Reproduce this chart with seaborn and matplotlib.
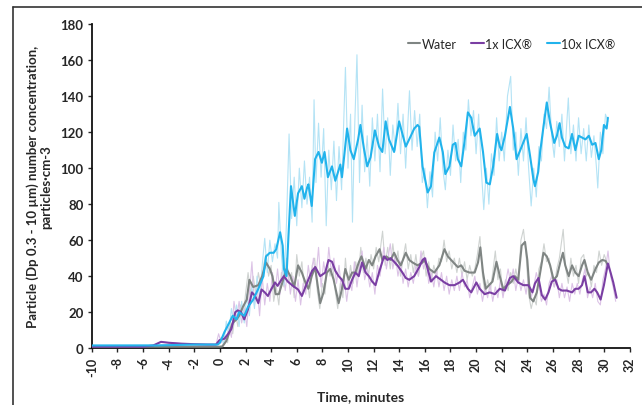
import matplotlib
matplotlib.use("Agg")
import matplotlib.pyplot as plt
import seaborn as sns
import pandas as pd
from matplotlib.lines import Line2D

# ---- data (time in minutes, particles/cm3) ----
# smoothed lines
water_t = [-10, -5, -1, 0, 0.2, 0.5, 0.75, 1.0, 1.3, 1.5, 1.8, 2.1, 2.3, 2.6, 3.0, 3.3, 3.6, 3.9, 4.1, 4.35,
           4.6, 4.9, 5.2, 5.5, 5.8, 6.1, 6.4, 6.7, 6.91, 7.17, 7.43, 7.83, 8.09, 8.35, 8.61, 8.88, 9.27, 9.53,
           9.79, 10.06, 10.32, 10.58, 10.84, 11.05, 11.37, 11.63, 11.89, 12.15, 12.47, 12.68, 12.99, 13.33,
           13.6, 13.86, 14.12, 14.51, 14.78, 15.04, 15.43, 15.82, 15.95, 16.35, 16.74, 17.13, 17.53, 17.79,
           18.05, 18.31, 18.58, 18.84, 19.1, 19.49, 19.89, 20.15, 20.33, 20.54, 20.75, 21.01, 21.28, 21.59,
           21.85, 22.11, 22.43, 22.77, 23.03, 23.29, 23.56, 23.82, 24.0, 24.21, 24.47, 24.74, 24.98, 25.26,
           25.52, 25.78, 26.05, 26.31, 26.57, 26.78, 26.96, 27.23, 27.49, 27.75, 28.01, 28.27, 28.46, 28.72,
           28.98, 29.32, 29.58, 29.85, 30.11, 30.29]
water_v = [0.8, 0.8, 0.8, 0.8, 1, 4, 9, 14, 16, 18, 23, 27, 38, 34, 35, 40, 47.6, 44, 40, 30,
           30, 37, 44, 40, 34, 46, 42, 36, 33, 40, 45, 25, 31, 42, 44, 38, 25, 33,
           44, 38, 42, 42, 47.6, 51, 44, 49, 46, 51, 55, 49, 51, 49,
           53, 49, 46, 53, 49, 47.6, 46, 47.6, 49, 44, 42, 46, 55, 51,
           49, 47, 45, 46, 43, 42, 42, 47.6, 56, 42, 33, 35, 37, 48,
           40, 33, 35, 37, 40, 38, 57, 59, 49, 28, 26, 31, 41, 53,
           51, 46, 38, 40, 47.6, 53, 46, 40, 46, 42, 40, 46, 49, 42,
           38, 44, 47.6, 49, 48.5, 46]

icx1_t = [-10, -6, -5.2, -4.6, -4.0, -3, -2, -1, -0.3, -0.04, 0.36, 0.65, 0.9, 1.2, 1.4, 1.65, 1.9, 2.2, 2.5,
          2.75, 3.0, 3.25, 3.5, 3.75, 4.0, 4.3, 4.5, 4.8, 5.0, 5.3, 5.7, 6.1, 6.4, 6.6, 6.9, 7.2, 7.45, 7.83,
          8.22, 8.48, 8.75, 9.01, 9.27, 9.53, 9.79, 10.06, 10.32, 10.58, 10.84, 11.1, 11.37, 11.63, 11.89,
          12.15, 12.42, 12.81, 13.07, 13.33, 13.6, 13.86, 14.25, 14.51, 14.78, 15.17, 15.56, 15.82, 16.0,
          16.22, 16.48, 16.87, 17.26, 17.53, 17.92, 18.31, 18.71, 18.97, 19.36, 19.62, 20.02, 20.28, 20.67,
          21.07, 21.46, 21.85, 22.25, 22.64, 22.9, 23.29, 23.69, 24.08, 24.4, 24.6, 24.87, 25.13, 25.39,
          25.65, 25.91, 26.18, 26.44, 26.7, 27.09, 27.49, 27.75, 28.01, 28.27, 28.46, 28.72, 28.98, 29.24,
          29.45, 29.72, 29.98, 30.29, 30.5, 30.71, 30.97]
icx1_v = [0.8, 0.8, 1.5, 3.5, 3, 2.5, 2.2, 2, 2, 4.4, 5.3, 8, 10.7, 20, 21, 20, 16, 21.7, 31,
          29, 25, 32.6, 31, 29, 32.6, 36.5, 34.6, 38, 40, 37, 34.6, 32.6, 29, 32.6, 38, 43, 45, 40,
          42, 49, 48, 43, 40, 38, 33, 33, 38, 42, 40, 47.6, 42, 40, 37,
          35, 42, 51, 49, 50, 48, 46, 42, 39, 38, 40, 45, 49, 50,
          44, 37, 40, 38, 36.5, 35, 35, 36.5, 38, 33, 31, 36.5, 33, 30,
          31, 30, 33, 32, 39, 40, 36.5, 35, 35, 31, 36, 39, 29.5, 27,
          31, 37, 38, 33, 32, 32, 31, 33, 33, 35, 40, 31, 31, 33,
          31, 27, 35, 47, 42, 36.5, 28]

icx10_t = [-10, -5, -2, -0.5, -0.17, 0, 0.36, 0.75, 1.0, 1.3, 1.5, 1.9, 2.2, 2.6, 3.0, 3.4, 3.6, 3.9, 4.2, 4.4,
           4.7, 4.9, 5.0, 5.2, 5.35, 5.55, 5.85, 6.1, 6.4, 6.6, 6.8, 6.91, 7.17, 7.43, 7.70, 7.96, 8.17, 8.43,
           8.75, 9.01, 9.40, 9.53, 9.93, 10.19, 10.45, 10.79, 10.97, 11.24, 11.50, 11.76, 12.10, 12.42, 12.68,
           12.94, 13.2, 13.6, 13.99, 14.25, 14.51, 14.91, 15.17, 15.43, 15.56, 15.82, 16.22, 16.48, 16.74,
           17.13, 17.4, 17.6, 17.92, 18.18, 18.39, 18.58, 18.84, 19.1, 19.36, 19.62, 19.89, 20.28, 20.54,
           20.8, 21.07, 21.33, 21.64, 21.85, 21.98, 22.25, 22.64, 22.9, 23.16, 23.56, 23.95, 24.21, 24.47,
           24.6, 24.85, 25.0, 25.26, 25.52, 25.78, 26.1, 26.31, 26.52, 26.7, 26.96, 27.23, 27.49, 27.75,
           28.01, 28.27, 28.54, 28.8, 29.06, 29.32, 29.58, 29.77, 29.98, 30.19, 30.29]
icx10_v = [1.5, 1.5, 2, 2, 2, 3, 9, 14.4, 18, 16, 20, 18, 23, 27, 33, 40, 51, 53, 53, 55,
           64.4, 57, 44, 40, 62, 90, 73.5, 86, 90, 83, 89, 91, 79, 105, 109, 103, 109, 95,
           101, 93, 102, 95, 122, 110, 105, 116, 124, 111, 101, 106, 121, 112, 109,
           126, 116, 109, 126, 119, 112, 118, 122, 124, 123, 101, 86.5, 90, 108.7,
           117, 109, 96.7, 101, 113, 114, 105, 101, 115, 131, 128, 118, 122, 109,
           92, 91, 101, 119, 112, 110, 118, 134, 122, 105, 112, 119, 107, 94,
           90, 98, 109, 123, 136.5, 125, 114, 118, 125, 117, 112, 111, 119, 110,
           118, 117, 116, 118, 113, 114, 105, 110, 124, 122, 128]

# raw (unsmoothed) traces
water_raw_t = [-10, 0.2, 0.4, 0.6, 0.8, 1.0, 1.2, 1.4, 1.6, 1.8, 2.0, 2.2, 2.4, 2.6, 2.8, 3.0, 3.2, 3.4, 3.6,
               3.8, 4.0, 4.2, 4.4, 4.6, 4.8, 5.0, 5.2, 5.4, 5.6, 5.8, 6.0, 6.2, 6.4, 6.6, 6.8, 7.0, 7.2, 7.4,
               7.6, 7.8, 8.0, 8.2, 8.4, 8.6, 8.8, 9.0, 9.2, 9.4, 9.6, 9.8, 10.0, 10.2, 10.4, 10.6, 10.8, 11.0,
               11.2, 11.4, 11.6, 11.8, 12.0, 12.2, 12.4, 12.7, 12.9, 13.1, 13.3, 13.5, 13.7, 13.9, 14.1, 14.3,
               14.5, 14.7, 14.9, 15.1, 15.3, 15.5, 15.7, 15.9, 16.1, 16.3, 16.5, 16.7, 16.9, 17.1, 17.3, 17.5,
               17.7, 17.9, 18.1, 18.3, 18.5, 18.7, 18.9, 19.1, 19.3, 19.5, 19.7, 19.9, 20.1, 20.3, 20.5, 20.7,
               20.9, 21.1, 21.3, 21.5, 21.7, 21.9, 22.1, 22.3, 22.5, 22.7, 22.9, 23.1, 23.3, 23.5, 23.7, 23.9,
               24.1, 24.3, 24.5, 24.7, 24.9, 25.1, 25.3, 25.5, 25.7, 25.9, 26.1, 26.3, 26.5, 26.8, 27.0, 27.2,
               27.4, 27.6, 27.8, 28.0, 28.2, 28.4, 28.6, 28.8, 29.0, 29.2, 29.4, 29.6, 29.8, 30.0, 30.2]
water_raw_v = [0.8, 0.8, 6, 3, 14, 8, 20, 12, 24, 16, 30, 42, 30, 40, 30, 42, 34, 46, 52,
               40, 46, 26, 34, 24, 42, 34, 50, 36, 42, 28, 52, 40, 48, 32, 38, 28, 46, 50,
               32, 22, 36, 30, 48, 40, 46, 32, 22, 36, 28, 50, 34, 46, 36, 48, 40, 56,
               42, 50, 40, 52, 44, 56, 48, 65, 46, 56, 44, 58, 46, 54, 40, 50,
               58, 44, 52, 42, 52, 40, 50, 54, 40, 48, 38, 46, 40, 50, 48, 60,
               48, 54, 44, 50, 42, 50, 40, 48, 38, 46, 40, 44, 52, 62, 40, 30,
               38, 32, 42, 54, 38, 44, 30, 38, 32, 42, 36, 44, 36, 60, 66, 52,
               30, 22, 28, 24, 44, 48, 58, 48, 50, 40, 34, 44, 50, 66, 44, 36,
               50, 40, 46, 36, 50, 52, 40, 42, 34, 46, 42, 54, 46, 52, 48]

icx1_raw_t = [-10, -5.2, -4.6, -3, -0.3, -0.1, 0.1, 0.3, 0.5, 0.7, 0.9, 1.1, 1.3, 1.5, 1.7, 1.9, 2.1, 2.3,
              2.5, 2.7, 2.9, 3.1, 3.3, 3.5, 3.7, 3.9, 4.1, 4.3, 4.5, 4.7, 4.9, 5.1, 5.3, 5.5, 5.7, 5.9, 6.1,
              6.3, 6.5, 6.7, 6.9, 7.1, 7.3, 7.5, 7.7, 7.9, 8.1, 8.3, 8.5, 8.7, 8.9, 9.1, 9.3, 9.5, 9.7, 9.9,
              10.1, 10.3, 10.5, 10.7, 10.9, 11.1, 11.3, 11.5, 11.7, 11.9, 12.1, 12.3, 12.5, 12.8, 13.0, 13.3,
              13.5, 13.7, 13.9, 14.1, 14.3, 14.5, 14.7, 14.9, 15.1, 15.3, 15.5, 15.7, 15.9, 16.1, 16.3, 16.5,
              16.7, 16.9, 17.1, 17.3, 17.5, 17.7, 17.9, 18.1, 18.3, 18.5, 18.7, 18.9, 19.1, 19.3, 19.5, 19.7,
              19.9, 20.1, 20.3, 20.5, 20.7, 20.9, 21.1, 21.3, 21.5, 21.7, 21.9, 22.1, 22.3, 22.5, 22.7, 22.9,
              23.1, 23.3, 23.5, 23.7, 23.9, 24.1, 24.3, 24.5, 24.7, 24.9, 25.1, 25.3, 25.5, 25.7, 25.9, 26.1,
              26.3, 26.5, 26.7, 26.9, 27.1, 27.3, 27.5, 27.7, 27.9, 28.1, 28.3, 28.5, 28.7, 28.9, 29.1, 29.3,
              29.5, 29.7, 29.9, 30.1, 30.3, 30.5, 30.7, 30.9]
icx1_raw_v = [0.8, 1.5, 3.5, 2.5, 2, 8, 3, 7, 4, 12, 6, 26, 16, 26, 14, 22, 12, 30,
              48, 24, 34, 18, 40, 24, 36, 26, 42, 30, 44, 30, 46, 32, 44, 30, 40, 26, 38,
              24, 36, 30, 46, 36, 50, 40, 56, 34, 48, 38, 56, 42, 50, 36, 46, 32, 40, 26,
              38, 32, 48, 34, 46, 54, 38, 44, 34, 42, 30, 46, 40, 56, 44, 58,
              44, 52, 40, 48, 36, 44, 34, 42, 36, 46, 40, 54, 44, 50, 36, 42,
              34, 44, 34, 42, 32, 40, 30, 38, 32, 40, 32, 42, 34, 38, 28, 34,
              40, 30, 36, 26, 34, 28, 36, 26, 34, 28, 38, 28, 36, 44, 36, 44,
              32, 40, 32, 38, 30, 40, 28, 34, 42, 36, 26, 30, 24, 36, 40, 34,
              38, 28, 36, 28, 34, 26, 36, 30, 36, 30, 38, 44, 28, 34, 28, 36,
              26, 24, 38, 44, 54, 40, 34, 26]

icx10_raw_t = [-10, -0.2, 0.1, 0.3, 0.5, 0.7, 0.9, 1.1, 1.3, 1.5, 1.7, 1.9, 2.1, 2.3, 2.5, 2.7, 2.9, 3.1, 3.3,
               3.5, 3.7, 3.9, 4.1, 4.3, 4.5, 4.6, 4.8, 5.0, 5.2, 5.4, 5.6, 5.8, 6.0, 6.2, 6.4, 6.6, 6.8, 7.0,
               7.2, 7.35, 7.5, 7.7, 7.9, 8.1, 8.3, 8.5, 8.7, 8.9, 9.1, 9.3, 9.5, 9.8, 10.0, 10.2, 10.35, 10.5,
               10.7, 10.9, 11.1, 11.3, 11.5, 11.7, 11.9, 12.1, 12.3, 12.5, 12.7, 12.9, 13.1, 13.3, 13.5, 13.7,
               13.9, 14.1, 14.3, 14.5, 14.8, 15.0, 15.2, 15.4, 15.6, 15.8, 16.0, 16.2, 16.4, 16.6, 16.8, 17.0,
               17.2, 17.4, 17.6, 17.8, 18.0, 18.2, 18.4, 18.6, 18.8, 19.0, 19.2, 19.4, 19.6, 19.8, 20.0, 20.2,
               20.4, 20.6, 20.8, 21.0, 21.2, 21.4, 21.6, 21.8, 22.0, 22.2, 22.45, 22.7, 22.9, 23.1, 23.3, 23.5,
               23.7, 23.9, 24.1, 24.3, 24.5, 24.7, 24.9, 25.1, 25.3, 25.5, 25.7, 25.9, 26.1, 26.3, 26.5, 26.7,
               26.9, 27.2, 27.4, 27.6, 27.8, 28.0, 28.2, 28.4, 28.6, 28.8, 29.0, 29.2, 29.4, 29.5, 29.7, 29.9,
               30.1, 30.3]
icx10_raw_v = [1.5, 2, 6, 2, 15, 8, 22, 14, 24, 12, 26, 14, 30, 18, 34, 22, 40, 28, 46,
               61, 42, 60, 48, 58, 50, 81, 52, 35, 70, 119, 72, 95, 68, 100, 78, 104, 80, 95,
               70, 138, 92, 125, 95, 122, 68, 110, 88, 115, 82, 112, 88, 156, 100, 130, 70, 118,
               163, 92, 135, 98, 118, 90, 128, 104, 130, 98, 144, 108, 128, 96, 124, 110,
               136, 108, 130, 100, 143, 110, 132, 112, 130, 92, 100, 78, 98, 84, 120, 104,
               128, 100, 88, 110, 96, 124, 104, 116, 92, 120, 110, 138, 118, 132, 108, 130,
               100, 77, 100, 80, 108, 96, 128, 104, 120, 104, 140, 151, 110, 120, 96, 122,
               104, 128, 100, 79, 100, 84, 112, 104, 130, 122, 145, 118, 106, 126, 112, 130,
               104, 139, 108, 124, 104, 128, 108, 122, 104, 124, 106, 118, 100, 89, 120, 108,
               130, 126]

labels = ["Water", "1x ICX\u00ae", "10x ICX\u00ae"]
x_ticks = list(range(-10, 33, 2))
y_ticks = list(range(0, 181, 20))

# ---- style ----
sns.set_style("ticks")
plt.rcParams["font.family"] = ["Lato", "DejaVu Sans"]

c_water, c_water_raw = "#7f8583", "#cfd3d1"
c_1x, c_1x_raw = "#7a3ea3", "#dcc3e6"
c_10x, c_10x_raw = "#21b3ec", "#b4e3f5"

fig = plt.figure(figsize=(6.42, 4.06), dpi=100)
ax = fig.add_axes([0.143, 0.140, 0.838, 0.798])

# raw traces underneath
sns.lineplot(x=water_raw_t, y=water_raw_v, ax=ax, color=c_water_raw, lw=0.8, zorder=1)
sns.lineplot(x=icx1_raw_t, y=icx1_raw_v, ax=ax, color=c_1x_raw, lw=0.8, zorder=1)
sns.lineplot(x=icx10_raw_t, y=icx10_raw_v, ax=ax, color=c_10x_raw, lw=0.8, zorder=1)

# smoothed lines
sns.lineplot(x=water_t, y=water_v, ax=ax, color=c_water, lw=1.5, zorder=3, label=labels[0])
sns.lineplot(x=icx1_t, y=icx1_v, ax=ax, color=c_1x, lw=1.5, zorder=3, label=labels[1])
sns.lineplot(x=icx10_t, y=icx10_v, ax=ax, color=c_10x, lw=1.5, zorder=4, label=labels[2])

ax.set_xlim(-10, 32)
ax.set_ylim(0, 180)
ax.set_xticks(x_ticks)
ax.set_yticks(y_ticks)
ax.set_xticklabels([str(t) for t in x_ticks], rotation=90, fontweight="bold", fontsize=9)
ax.set_yticklabels([str(v) for v in y_ticks], fontweight="bold", fontsize=9.5)
ax.tick_params(axis="both", direction="out", length=3, width=1, pad=3)

for s in ["top", "right"]:
    ax.spines[s].set_visible(False)
for s in ["left", "bottom"]:
    ax.spines[s].set_linewidth(1.3)
    ax.spines[s].set_color("#111111")

ax.set_xlabel("Time, minutes", fontweight="bold", fontsize=10, labelpad=10)
ax.set_ylabel("Particle (Dp 0.3 - 10 \u00b5m) number concentration,\nparticles\u00b7cm-3",
              fontweight="bold", fontsize=9.5, labelpad=6, linespacing=1.1)

ax.legend(loc="center", bbox_to_anchor=(0.78, 0.94), ncol=3, frameon=False,
          handlelength=1.0, handletextpad=0.1, columnspacing=1.2, fontsize=9)

# outer frame (left and top edges of the original figure box)
fig.add_artist(Line2D([13 / 642, 13 / 642], [0, 1 - 8 / 406], color="#333333", lw=1.2))
fig.add_artist(Line2D([13 / 642, 1], [1 - 8 / 406, 1 - 8 / 406], color="#333333", lw=1.2))

fig.savefig("out.png", dpi=100)
